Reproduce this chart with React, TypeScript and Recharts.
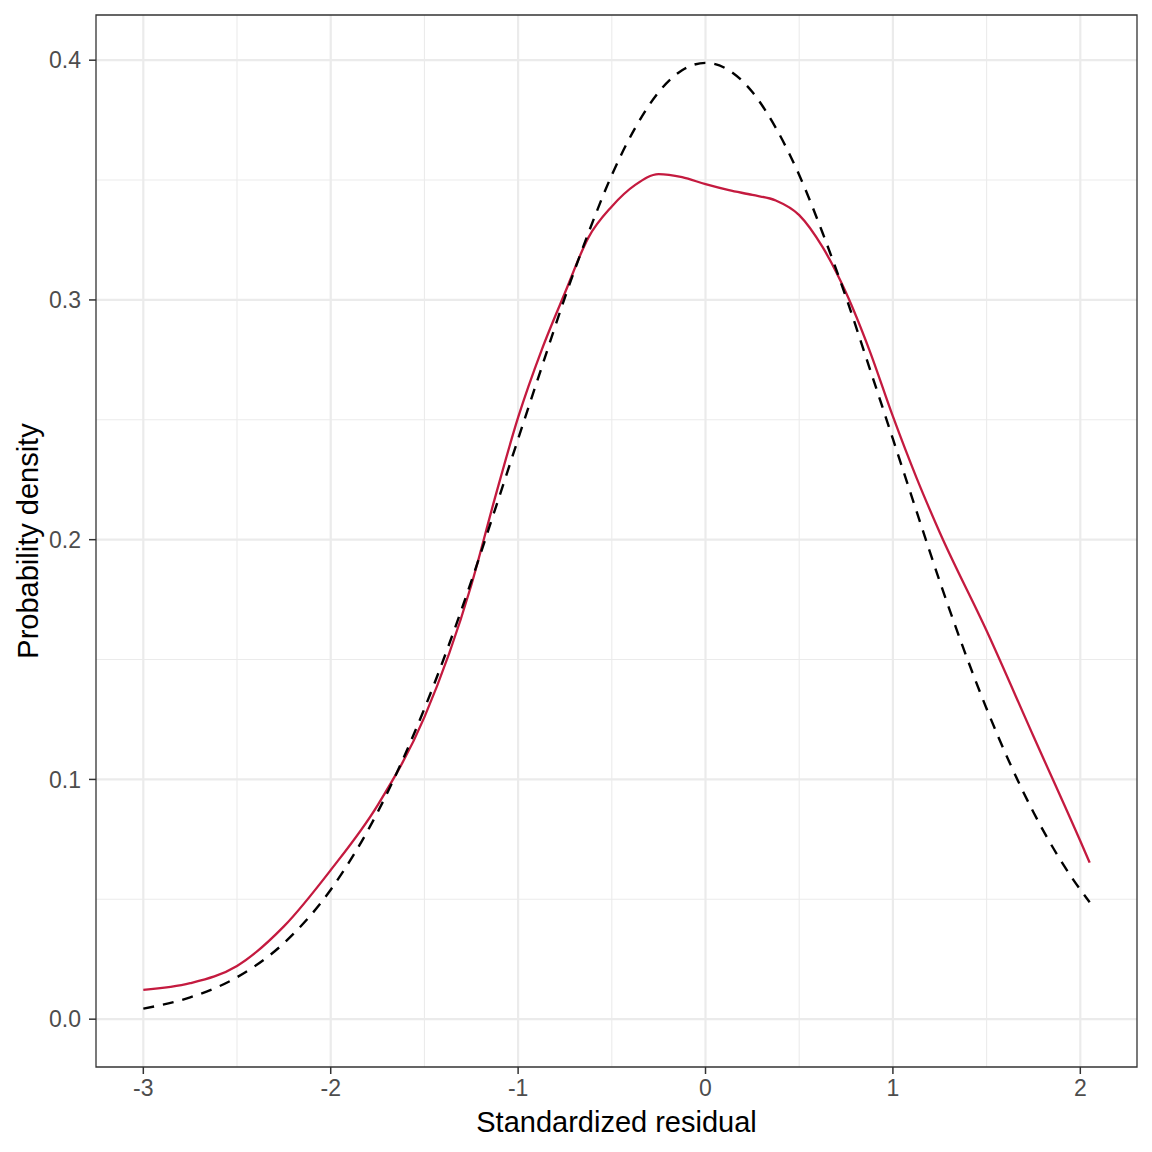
import {
  CartesianGrid,
  Label,
  Line,
  LineChart,
  ReferenceArea,
  XAxis,
  YAxis,
} from "recharts";

// residual grid (x) shared by both curves
const residual = [
  -3, -2.75, -2.5, -2.25, -2, -1.75, -1.5, -1.25, -1.125, -1, -0.875, -0.75,
  -0.625, -0.5, -0.375, -0.25, -0.125, 0, 0.125, 0.25, 0.375, 0.5, 0.625, 0.75,
  0.875, 1, 1.125, 1.25, 1.5, 1.75, 2, 2.05,
];

// kernel density of the standardized residuals (red)
const observed = [
  0.0122, 0.015, 0.0222, 0.0387, 0.0622, 0.0892, 0.126, 0.181, 0.217, 0.251,
  0.279, 0.303, 0.326, 0.339, 0.348, 0.3525, 0.3512, 0.3483, 0.3458, 0.3438,
  0.3415, 0.3354, 0.322, 0.303, 0.279, 0.2514, 0.226, 0.203, 0.162, 0.118,
  0.0743, 0.0653,
];

// reference normal density (dashed)
const normal = [
  0.0044, 0.0091, 0.0175, 0.0317, 0.054, 0.0863, 0.1295, 0.1826, 0.2121,
  0.242, 0.2717, 0.3011, 0.3279, 0.3521, 0.3718, 0.3867, 0.3958, 0.3989,
  0.3958, 0.3867, 0.3718, 0.3521, 0.3279, 0.3011, 0.2717, 0.242, 0.2121,
  0.1826, 0.1295, 0.0863, 0.054, 0.0488,
];

const xTicks = [-3, -2, -1, 0, 1, 2];
const xMinor = [-2.5, -1.5, -0.5, 0.5, 1.5];
const yTicks = [0, 0.1, 0.2, 0.3, 0.4];
const yMinor = [0.05, 0.15, 0.25, 0.35];

const xDomain: [number, number] = [-3.2525, 2.3025];
const yDomain: [number, number] = [-0.01995, 0.41885];

const data = residual.map((x, i) => ({
  x,
  observed: observed[i],
  normal: normal[i],
}));

const font = "'Liberation Sans', Arial, Helvetica, sans-serif";
const tickStyle = { fontSize: 23, fill: "#4D4D4D", fontFamily: font };

export default function App() {
  return (
    <div style={{ position: "absolute", left: 0, top: 0, background: "#fff" }}>
      <LineChart
        width={1152}
        height={1152}
        data={data}
        margin={{ top: 15, right: 15, left: 0, bottom: 0 }}
      >
        <CartesianGrid
          stroke="#EBEBEB"
          strokeWidth={1.1}
          verticalValues={xMinor}
          horizontalValues={yMinor}
        />
        <CartesianGrid
          stroke="#EBEBEB"
          strokeWidth={2.2}
          verticalValues={xTicks}
          horizontalValues={yTicks}
        />
        <XAxis
          dataKey="x"
          type="number"
          domain={xDomain}
          ticks={xTicks}
          allowDataOverflow
          height={85}
          axisLine={false}
          tickSize={7}
          tickMargin={6}
          tickLine={{ stroke: "#333333", strokeWidth: 1.5 }}
          tick={tickStyle}
        >
          <Label
            value="Standardized residual"
            position="insideBottom"
            offset={20}
            style={{ fontSize: 29, fill: "#000", fontFamily: font }}
          />
        </XAxis>
        <YAxis
          type="number"
          domain={yDomain}
          ticks={yTicks}
          allowDataOverflow
          width={96}
          axisLine={false}
          tickSize={7}
          tickMargin={8}
          tickLine={{ stroke: "#333333", strokeWidth: 1.5 }}
          tick={tickStyle}
          tickFormatter={(v: number) => v.toFixed(1)}
        >
          <Label
            value="Probability density"
            position="insideLeft"
            angle={-90}
            offset={28}
            textAnchor="middle"
            style={{
              fontSize: 29,
              fill: "#000",
              fontFamily: font,
              textAnchor: "middle",
            }}
          />
        </YAxis>
        <ReferenceArea
          x1={xDomain[0]}
          x2={xDomain[1]}
          y1={yDomain[0]}
          y2={yDomain[1]}
          fill="none"
          stroke="#333333"
          strokeWidth={1.3}
        />
        <Line
          dataKey="observed"
          type="monotone"
          stroke="#C41A3F"
          strokeWidth={2.3}
          dot={false}
          isAnimationActive={false}
        />
        <Line
          dataKey="normal"
          type="monotone"
          stroke="#000000"
          strokeWidth={2.4}
          strokeDasharray="11 9"
          dot={false}
          isAnimationActive={false}
        />
      </LineChart>
    </div>
  );
}
